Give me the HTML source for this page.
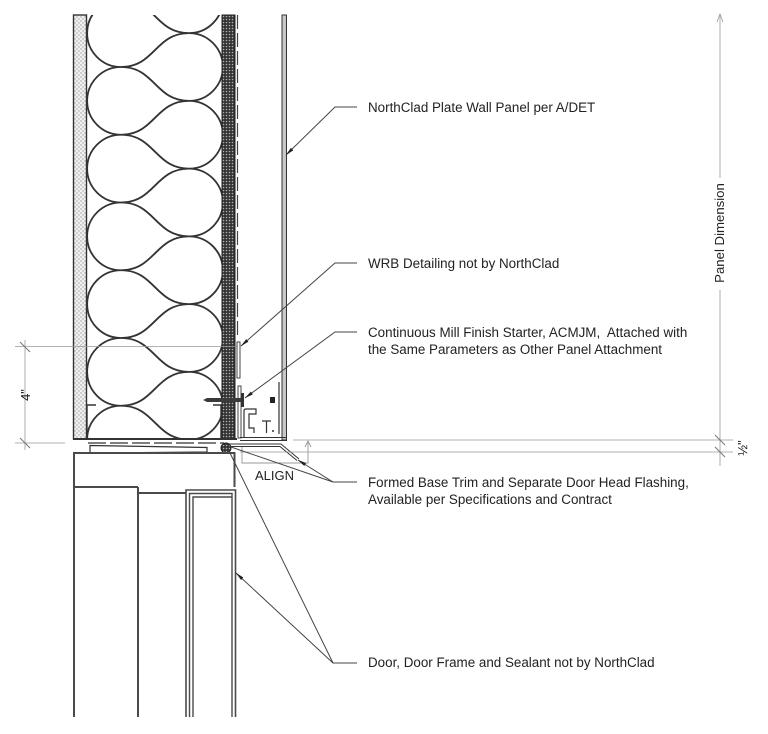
<!DOCTYPE html>
<html><head><meta charset="utf-8"><style>
html,body{margin:0;padding:0;background:#fff;}
svg{display:block;}
text{font-family:"Liberation Sans",Arial,sans-serif;fill:#222;}
</style></head><body>
<svg width="768" height="734" viewBox="0 0 768 734" xmlns="http://www.w3.org/2000/svg">
<defs>
<pattern id="dots" width="4" height="4" patternUnits="userSpaceOnUse">
<rect width="4" height="4" fill="#f0f0f0"/>
<circle cx="1" cy="1" r="0.7" fill="#9a9a9a"/>
<circle cx="3" cy="3" r="0.7" fill="#9a9a9a"/>
</pattern>
<pattern id="dark" width="3" height="3" patternUnits="userSpaceOnUse">
<rect width="3" height="3" fill="#333"/>
<circle cx="1.5" cy="1.5" r="0.8" fill="#b0b0b0"/>
</pattern>
<clipPath id="ins"><rect x="87" y="15" width="135" height="423"/></clipPath>
<marker id="ar" markerWidth="9" markerHeight="4" refX="8.5" refY="2" orient="auto" markerUnits="userSpaceOnUse">
<path d="M0,0.3 L9,2 L0,3.7 z" fill="#222"/>
</marker>
</defs>

<!-- Insulation -->
<g clip-path="url(#ins)" fill="none" stroke="#333" stroke-width="1.8">
<path d="M121,-0.75 A33.875,33.875 0 0 0 121,67 A33.875,33.875 0 0 0 121,134.75 A33.875,33.875 0 0 0 121,202.5 A33.875,33.875 0 0 0 121,270.25 A33.875,33.875 0 0 0 121,338 A33.875,33.875 0 0 0 121,405.75 A33.875,33.875 0 0 0 121,473.5"/>
<path d="M189,-34.75 A33.875,33.875 0 0 1 189,33.125 A33.875,33.875 0 0 1 189,100.875 A33.875,33.875 0 0 1 189,168.625 A33.875,33.875 0 0 1 189,236.375 A33.875,33.875 0 0 1 189,304.125 A33.875,33.875 0 0 1 189,371.875 A33.875,33.875 0 0 1 189,439.625 A33.875,33.875 0 0 1 189,507.375"/>
<path d="M121,-0.75 C155,-0.75 155,33.125 189,33.125
M121,67 C155,67 155,33.125 189,33.125
M121,67 C155,67 155,100.875 189,100.875
M121,134.75 C155,134.75 155,100.875 189,100.875
M121,134.75 C155,134.75 155,168.625 189,168.625
M121,202.5 C155,202.5 155,168.625 189,168.625
M121,202.5 C155,202.5 155,236.375 189,236.375
M121,270.25 C155,270.25 155,236.375 189,236.375
M121,270.25 C155,270.25 155,304.125 189,304.125
M121,338 C155,338 155,304.125 189,304.125
M121,338 C155,338 155,371.875 189,371.875
M121,405.75 C155,405.75 155,371.875 189,371.875
M121,405.75 C155,405.75 155,439.625 189,439.625
M121,473.5 C155,473.5 155,439.625 189,439.625"/>
</g>

<!-- Wall layers -->
<rect x="73.5" y="15" width="13" height="424" fill="url(#dots)" stroke="#333" stroke-width="1.4"/>
<rect x="222" y="15" width="13" height="424" fill="url(#dark)" stroke="#222" stroke-width="1"/>
<line x1="237.5" y1="15" x2="237.5" y2="338" stroke="#444" stroke-width="1.2" stroke-dasharray="14 4"/>
<rect x="282" y="15" width="4.5" height="425" fill="#c8c8c8" stroke="#333" stroke-width="1"/>
<line x1="73" y1="439" x2="237" y2="439" stroke="#333" stroke-width="2"/>
<path d="M87,438 L87,405 L96,405 M221,438 L221,405 L213,405" fill="none" stroke="#333" stroke-width="1.4"/>

<!-- 4" extension lines -->
<line x1="15" y1="346.5" x2="237" y2="346.5" stroke="#999" stroke-width="0.8"/>
<line x1="15" y1="443" x2="65" y2="443" stroke="#999" stroke-width="0.8"/>
<line x1="25" y1="340" x2="25" y2="450" stroke="#999" stroke-width="0.8"/>
<path d="M20,342 L30,352 M20,438 L30,448" stroke="#777" stroke-width="1"/>
<text transform="translate(30,395) rotate(-90)" text-anchor="middle" font-size="13">4"</text>

<!-- Starter / flashing details -->
<rect x="237" y="342" width="3" height="36" fill="#fff" stroke="#333" stroke-width="0.9"/>
<rect x="238" y="386" width="3" height="52" fill="#fff" stroke="#333" stroke-width="0.9"/>
<polygon points="203,400 207,398 241,398 241,402 207,402" fill="#3a3a3a"/>
<rect x="241" y="393" width="3" height="14" fill="#333"/>
<rect x="270" y="397" width="5" height="6" fill="#222"/>
<line x1="279" y1="382" x2="279" y2="434" stroke="#333" stroke-width="1.2"/>
<path d="M244,437 L244,411 Q244,409 246,409 L256,409 L256,414 L249,414 L249,428 L254,428 L254,433" fill="none" stroke="#333" stroke-width="1.2"/>
<path d="M262,421 L271,421 M266.5,421 L266.5,433" stroke="#333" stroke-width="1.2"/>
<circle cx="273" cy="431" r="1" fill="#333"/>
<path d="M240,437.5 L287,437.5 M240,440.5 L287,440.5" stroke="#333" stroke-width="1"/>
<path d="M226,444 L281,444 L299,459 M226,446.5 L280,446.5 L297,460.5" fill="none" stroke="#333" stroke-width="1"/>
<line x1="88" y1="443" x2="224" y2="443" stroke="#333" stroke-width="1.2" stroke-dasharray="18 4"/>
<polygon points="90,445.5 207,447.5 207,452 90,453" fill="#fff" stroke="#333" stroke-width="1.2"/>
<ellipse cx="226" cy="448" rx="5" ry="5" fill="url(#dark)" stroke="#222" stroke-width="1"/>

<!-- Door head and frame -->
<g fill="none" stroke="#4a4a4a" stroke-width="2">
<path d="M74,717 L74,453 L234.5,453 L234.5,487"/>
<path d="M74,487 L138,487 M138,717 L138,487 M138,493 L186,493"/>
<path d="M186,717 L186,490 L235.5,490 L235.5,717" stroke-width="1.6"/>
<path d="M189.5,717 L189.5,493.5 L232,493.5 L232,717" stroke-width="1.4"/>
<path d="M193,717 L193,497 L232,497" stroke-width="1.4"/>
</g>

<!-- Panel dimension -->
<path d="M720,14 V178 M720,290 V466" stroke="#999" stroke-width="0.8" fill="none"/>
<path d="M717,22 L720,14 L723,22" stroke="#999" stroke-width="0.8" fill="none"/>
<path d="M293,440 H733 M240,452 H733" stroke="#999" stroke-width="0.8"/>
<path d="M715,435 L725,445 M715,447 L725,457" stroke="#777" stroke-width="1"/>
<text transform="translate(724,233) rotate(-90)" text-anchor="middle" font-size="13.2">Panel Dimension</text>
<text transform="translate(747,448) rotate(-90)" text-anchor="middle" font-size="13">½"</text>

<!-- ALIGN bracket -->
<path d="M242,447 V463 H308 V441 M305,447 L308,441 L311,447" fill="none" stroke="#999" stroke-width="0.9"/>
<text x="255" y="480" font-size="13">ALIGN</text>

<!-- Leaders -->
<g fill="none" stroke="#444" stroke-width="1">
<polyline points="357,107 335,107 286,155" marker-end="url(#ar)"/>
<polyline points="357,263 335,263 241,346" marker-end="url(#ar)"/>
<polyline points="357,332 335,332 245,398" marker-end="url(#ar)"/>
<polyline points="357,482 333,482 298,460" marker-end="url(#ar)"/>
<line x1="333" y1="482" x2="231" y2="447"/>
<polyline points="357,663 333,663 236,573" marker-end="url(#ar)"/>
<line x1="333" y1="663" x2="229" y2="451"/>
</g>

<!-- Labels -->
<g font-size="13.4">
<text x="368" y="112">NorthClad Plate Wall Panel per A/DET</text>
<text x="368" y="268">WRB Detailing not by NorthClad</text>
<text x="368" y="337">Continuous Mill Finish Starter, ACMJM,&#160; Attached with</text>
<text x="368" y="354">the Same Parameters as Other Panel Attachment</text>
<text x="368" y="487">Formed Base Trim and Separate Door Head Flashing,</text>
<text x="368" y="504">Available per Specifications and Contract</text>
<text x="368" y="667">Door, Door Frame and Sealant not by NorthClad</text>
</g>
</svg>
</body></html>
